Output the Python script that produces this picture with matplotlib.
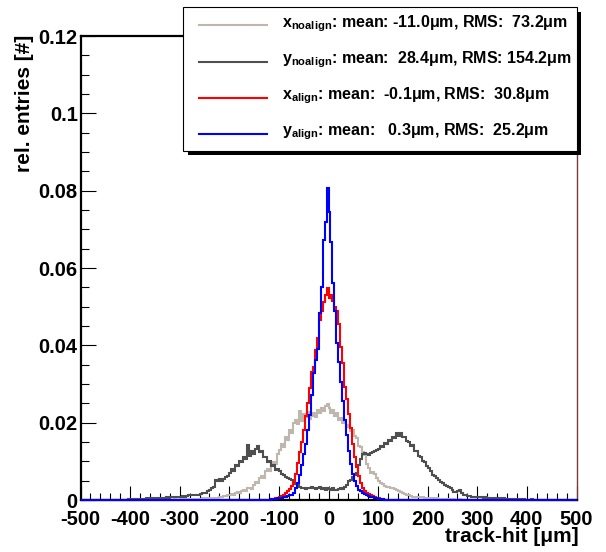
import numpy as np
import matplotlib
matplotlib.use('Agg')
import matplotlib.pyplot as plt
from matplotlib.patches import Rectangle
from matplotlib.ticker import MultipleLocator, FuncFormatter

plt.rcParams['font.family'] = ['Liberation Sans', 'DejaVu Sans']
plt.rcParams['font.weight'] = 'bold'
plt.rcParams['mathtext.fontset'] = 'custom'
plt.rcParams['mathtext.rm'] = 'Liberation Sans:bold'
plt.rcParams['mathtext.bf'] = 'Liberation Sans:bold'
plt.rcParams['mathtext.default'] = 'bf'

# histogram binning: 250 bins of 4 um from -500 to 500
bin_edges = np.linspace(-500, 500, 251)

# bin contents in units of 1e-4 (each row = 100 um)
x_noalign = [
    0, 0, 0, 0, 0, 0, 1, 0, 0, 0, 0, 0, 0, 1, 0, 0, 0, 0, 0, 0, 1, 0, 0, 0, 0,
    0, 1, 0, 0, 1, 0, 0, 1, 0, 1, 1, 0, 1, 0, 1, 1, 0, 1, 1, 0, 1, 1, 2, 1, 1,
    2, 1, 2, 2, 3, 2, 3, 2, 3, 2, 3, 4, 3, 4, 3, 4, 4, 5, 4, 5, 7, 9, 10, 11, 12,
    13, 16, 14, 19, 20, 18, 24, 25, 23, 30, 31, 29, 38, 46, 44, 56, 62, 58, 74, 80, 76, 95, 99, 92, 118,
    129, 145, 138, 162, 155, 180, 172, 198, 207, 196, 230, 205, 222, 214, 228, 210, 218, 226, 214, 232, 226, 238, 230, 244, 248,
    238, 226, 232, 218, 224, 206, 212, 198, 203, 188, 194, 178, 182, 166, 160, 140, 138, 124, 116, 92, 84, 70, 72, 66, 58,
    50, 45, 41, 37, 34, 33, 31, 30, 29, 25, 22, 21, 18, 16, 14, 13, 11, 9, 9, 8, 8, 7, 7, 6, 5,
    5, 4, 4, 3, 4, 3, 3, 2, 3, 2, 2, 2, 1, 2, 1, 1, 2, 1, 1, 0, 1, 1, 0, 1, 1,
    0, 1, 0, 0, 1, 0, 0, 0, 1, 0, 0, 0, 0, 1, 0, 0, 0, 0, 0, 0, 1, 0, 0, 0, 0,
    0, 0, 0, 0, 0, 0, 0, 0, 0, 0, 0, 0, 0, 0, 0, 0, 0, 0, 0, 0, 0, 0, 0, 0, 0,
]

y_noalign = [
    0, 1, 0, 0, 1, 0, 1, 0, 0, 1, 0, 1, 1, 0, 1, 0, 1, 1, 0, 1, 1, 0, 1, 1, 2,
    1, 2, 1, 2, 2, 3, 2, 3, 4, 3, 4, 3, 5, 4, 5, 6, 5, 6, 7, 6, 8, 7, 9, 8, 9,
    9, 10, 9, 11, 12, 13, 12, 13, 14, 13, 15, 17, 18, 19, 23, 26, 30, 34, 52, 48, 54, 50, 55, 60, 62,
    69, 80, 76, 90, 88, 102, 98, 110, 106, 142, 114, 126, 118, 132, 140, 124, 128, 110, 112, 98, 102, 88, 90, 78, 80,
    75, 68, 65, 60, 58, 55, 52, 48, 42, 38, 34, 32, 30, 28, 32, 30, 34, 32, 28, 30, 33, 29, 30, 27, 31,
    28, 26, 30, 27, 25, 29, 31, 28, 33, 38, 48, 52, 60, 64, 70, 90, 105, 118, 122, 120, 116, 122, 125, 128, 130,
    133, 140, 136, 148, 144, 156, 152, 164, 160, 172, 166, 174, 162, 164, 152, 150, 140, 142, 128, 126, 114, 112, 100, 98, 88,
    82, 75, 65, 62, 58, 52, 47, 43, 40, 37, 34, 30, 26, 21, 20, 24, 26, 18, 14, 13, 11, 10, 9, 9, 8,
    8, 7, 8, 6, 7, 5, 6, 5, 4, 5, 4, 3, 4, 4, 3, 3, 2, 3, 2, 3, 2, 2, 1, 2, 1,
    1, 1, 2, 1, 1, 0, 1, 1, 0, 1, 0, 0, 1, 0, 0, 1, 0, 0, 0, 1, 0, 0, 0, 0, 0,
]

x_align = [
    0, 0, 0, 0, 0, 0, 0, 0, 0, 0, 0, 0, 0, 0, 0, 0, 0, 0, 0, 0, 0, 0, 0, 0, 0,
    0, 0, 0, 0, 0, 0, 0, 0, 0, 0, 0, 0, 0, 0, 0, 0, 0, 0, 0, 0, 0, 0, 0, 0, 0,
    0, 0, 0, 0, 0, 0, 0, 0, 0, 0, 0, 0, 0, 0, 0, 0, 0, 0, 0, 0, 0, 0, 0, 0, 0,
    0, 0, 0, 0, 0, 0, 0, 0, 0, 0, 0, 0, 0, 0, 0, 0, 0, 0, 0, 1, 1, 2, 3, 4, 6,
    8, 10, 13, 17, 23, 29, 37, 47, 68, 95, 125, 150, 182, 216, 250, 290, 330, 345, 387, 418, 465, 490, 512, 530, 549,
    523, 531, 514, 500, 488, 456, 396, 355, 292, 262, 222, 186, 146, 112, 86, 62, 43, 31, 24, 19, 15, 12, 10, 8, 6,
    4, 3, 2, 1, 1, 0, 0, 0, 0, 0, 0, 0, 0, 0, 0, 0, 0, 0, 0, 0, 0, 0, 0, 0, 0,
    0, 0, 0, 0, 0, 0, 0, 0, 0, 0, 0, 0, 0, 0, 0, 0, 0, 0, 0, 0, 0, 0, 0, 0, 0,
    0, 0, 0, 0, 0, 0, 0, 0, 0, 0, 0, 0, 0, 0, 0, 0, 0, 0, 0, 0, 0, 0, 0, 0, 0,
    0, 0, 0, 0, 0, 0, 0, 0, 0, 0, 0, 0, 0, 0, 0, 0, 0, 0, 0, 0, 0, 0, 0, 0, 0,
]

y_align = [
    0, 0, 0, 0, 0, 0, 0, 0, 0, 0, 0, 0, 0, 0, 0, 0, 0, 0, 0, 0, 0, 0, 0, 0, 0,
    0, 0, 0, 0, 0, 0, 0, 0, 0, 0, 0, 0, 0, 0, 0, 0, 0, 0, 0, 0, 0, 0, 0, 0, 0,
    0, 0, 0, 0, 0, 0, 0, 0, 0, 0, 0, 0, 0, 0, 0, 0, 0, 0, 0, 0, 0, 0, 0, 0, 0,
    0, 0, 0, 0, 0, 0, 0, 0, 0, 0, 0, 0, 0, 0, 0, 0, 0, 0, 0, 0, 1, 2, 2, 3, 4,
    5, 6, 7, 8, 10, 12, 14, 19, 30, 45, 65, 90, 118, 145, 180, 220, 272, 328, 362, 390, 483, 550, 672, 720, 808,
    745, 668, 560, 488, 405, 358, 305, 255, 208, 168, 126, 92, 68, 49, 36, 27, 22, 18, 15, 13, 10, 8, 7, 5, 4,
    3, 2, 2, 1, 1, 0, 0, 0, 0, 0, 0, 0, 0, 0, 0, 0, 0, 0, 0, 0, 0, 0, 0, 0, 0,
    0, 0, 0, 0, 0, 0, 0, 0, 0, 0, 0, 0, 0, 0, 0, 0, 0, 0, 0, 0, 0, 0, 0, 0, 0,
    0, 0, 0, 0, 0, 0, 0, 0, 0, 0, 0, 0, 0, 0, 0, 0, 0, 0, 0, 0, 0, 0, 0, 0, 0,
    0, 0, 0, 0, 0, 0, 0, 0, 0, 0, 0, 0, 0, 0, 0, 0, 0, 0, 0, 0, 0, 0, 0, 0, 0,
]

labels = [
    r'x$_{noalign}$: mean: -11.0μm, RMS:  73.2μm',
    r'y$_{noalign}$: mean:  28.4μm, RMS: 154.2μm',
    r'x$_{align}$: mean:  -0.1μm, RMS:  30.8μm',
    r'y$_{align}$: mean:   0.3μm, RMS:  25.2μm',
]
colors = ['#bfb7ae', '#4f4f4f', '#ff0000', '#0000ff']
series = [x_noalign, y_noalign, x_align, y_align]

W, H = 606, 552
fig = plt.figure(figsize=(W / 100, H / 100), dpi=100)
ax = fig.add_axes([80.5 / W, 52 / H, 496 / W, 464 / H])

for vals, col in zip(series, colors):
    ax.stairs(np.array(vals) * 1e-4, bin_edges, color=col, lw=1.5,
              baseline=None, clip_on=False, zorder=3)

ax.set_xlim(-500, 500)
ax.set_ylim(0, 0.12)
ax.xaxis.set_major_locator(MultipleLocator(100))
ax.xaxis.set_minor_locator(MultipleLocator(20))
ax.yaxis.set_major_locator(MultipleLocator(0.02))
ax.yaxis.set_minor_locator(MultipleLocator(0.005))
ax.yaxis.set_major_formatter(FuncFormatter(lambda v, p: '%g' % round(v, 3)))
ax.xaxis.set_major_formatter(FuncFormatter(lambda v, p: '%d' % round(v)))
ax.tick_params(which='both', direction='in', width=0.8, labelsize=14.5)
ax.tick_params(axis='y', which='major', length=11, pad=2)
ax.tick_params(axis='y', which='minor', length=6)
ax.tick_params(axis='x', which='major', length=10, pad=7)
ax.tick_params(axis='x', which='minor', length=5)
for s in ['left', 'top', 'bottom']:
    ax.spines[s].set_linewidth(1.6)
ax.spines['right'].set_linewidth(1.0)
ax.spines['right'].set_color('#7a3a3a')

fig.text(579 / W, 1 - 537 / H, 'track-hit [μm]', ha='right', va='center',
         fontsize=15, fontweight='bold')
fig.text(25 / W, 1 - 35 / H, 'rel. entries [#]', ha='center', va='top',
         rotation=90, fontsize=15, fontweight='bold')

# legend box with shadow, in pixel coordinates from the top left
def px(x, y):
    return x / W, 1 - y / H

fig.patches.append(Rectangle(px(188, 155), (581 - 188) / W, (155 - 12) / H,
                             transform=fig.transFigure, facecolor='black',
                             edgecolor='none', zorder=10))
fig.patches.append(Rectangle(px(183, 151), (577 - 183) / W, (151 - 7) / H,
                             transform=fig.transFigure, facecolor='white',
                             edgecolor='black', lw=0.8, zorder=11))
row_y = [25, 61.5, 97.5, 133.5]
for yy, lab, col in zip(row_y, labels, colors):
    fig.add_artist(plt.Line2D([199 / W, 267 / W], [1 - yy / H] * 2,
                              transform=fig.transFigure, color=col, lw=1.5, zorder=12))
    fig.text(281.5 / W, 1 - (yy + 2) / H, lab, ha='left', va='baseline',
             fontsize=11.5, fontweight='bold', zorder=12)

fig.savefig('out.png', dpi=100)
